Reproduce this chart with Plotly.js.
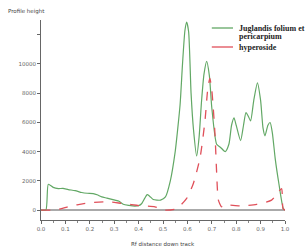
<!DOCTYPE html>
<html><head><meta charset="utf-8">
<script src="https://cdn.plot.ly/plotly-3.0.1.min.js"></script>
<style>html,body{margin:0;padding:0;background:#fff}#c{width:307px;height:246px}</style>
</head><body><div id="c"></div>
<script>
const seriesNames = ["Juglandis folium et", "pericarpium", "hyperoside"];
const greenX = [0.0,0.02,0.03,0.05,0.071,0.09,0.112,0.14,0.167,0.19,0.214,0.23,0.249,0.27,0.303,0.32,0.337,0.36,0.385,0.40,0.413,0.425,0.435,0.445,0.46,0.475,0.49,0.51,0.53,0.55,0.56,0.57,0.58,0.59,0.597,0.605,0.615,0.625,0.638,0.648,0.658,0.668,0.679,0.69,0.70,0.72,0.735,0.755,0.77,0.781,0.791,0.80,0.818,0.83,0.84,0.85,0.859,0.872,0.887,0.90,0.91,0.918,0.93,0.939,0.948,0.96,0.975,0.993,1.0];
const greenY = [0,0,1760,1550,1470,1480,1400,1330,1200,1150,1130,1050,900,820,680,600,400,320,270,300,450,800,1050,950,720,680,680,900,2000,4000,5500,7200,10000,12300,12850,12200,8000,5500,3700,5000,7460,9300,10170,9200,7000,4500,4300,4000,4500,5800,6300,5800,4750,5800,6660,6400,6100,7500,8700,7500,5600,5080,5800,5990,5300,3500,1800,100,0];
const redX = [0.0,0.05,0.08,0.126,0.17,0.208,0.262,0.30,0.33,0.37,0.413,0.467,0.508,0.556,0.597,0.624,0.652,0.672,0.683,0.692,0.70,0.713,0.72,0.727,0.74,0.745,0.816,0.884,0.945,0.973,0.986,0.992,1.0];
const redY = [0,0,80,290,420,520,560,530,450,370,290,220,0,100,800,1800,3600,6100,8200,9000,8200,5200,2500,680,220,340,290,390,680,1240,1470,100,0];
const xTickVals = [0,0.1,0.2,0.3,0.4,0.5,0.6,0.7,0.8,0.9,1.0];
const xTickText = ["0.0","0.1","0.2","0.3","0.4","0.5","0.6","0.7","0.8","0.9","1.0"];
const yTickVals = [0,2000,4000,6000,8000,10000,12000];
const yTickText = ["0","2000","4000","6000","8000","10000",""];
const greenColor = "#62a865", redColor = "#e0505a";

const traces = [
  {x: greenX, y: greenY, name: seriesNames[0] + " " + seriesNames[1], mode: "lines", line: {color: greenColor, width: 1.2, shape: "spline", smoothing: 0.6}, cliponaxis: false},
  {x: redX, y: redY, name: seriesNames[2], mode: "lines", line: {color: redColor, width: 1.3, dash: "dash", shape: "spline", smoothing: 0.6}}
];
const legFont = {family: "Liberation Serif", size: 8, color: "#222", weight: "bold"};
const layout = {
  width: 307, height: 246,
  margin: {l: 41, r: 22, t: 20, b: 26},
  paper_bgcolor: "#fff", plot_bgcolor: "#fff",
  showlegend: false,
  xaxis: {range: [0, 1.0], tickvals: xTickVals, ticktext: xTickText, showgrid: false, zeroline: false,
    showline: true, linecolor: "#666", linewidth: 1, ticks: "outside", ticklen: 3, tickcolor: "#666",
    minor: {dtick: 0.05, ticks: "outside", ticklen: 2, tickcolor: "#888"},
    tickfont: {family: "DejaVu Sans", size: 5.5, color: "#666"}},
  yaxis: {range: [-680, 13000], tickvals: yTickVals, ticktext: yTickText, showgrid: false,
    zeroline: true, zerolinecolor: "#aaa", zerolinewidth: 2,
    showline: true, linecolor: "#666", linewidth: 1, ticks: "outside", ticklen: 3, tickcolor: "#666",
    tickfont: {family: "DejaVu Sans", size: 5.5, color: "#666"}},
  shapes: [
    {type: "line", xref: "paper", yref: "paper", x0: 0.70, x1: 0.787, y0: 0.96, y1: 0.96, line: {color: greenColor, width: 1.3}},
    {type: "line", xref: "paper", yref: "paper", x0: 0.70, x1: 0.787, y0: 0.865, y1: 0.865, line: {color: redColor, width: 1.3}}
  ],
  annotations: [
    {text: "Profile height", xref: "paper", yref: "paper", x: -0.145, y: 1.04, xanchor: "left", yanchor: "middle", showarrow: false,
     font: {family: "DejaVu Sans", size: 5.5, color: "#444"}},
    {text: "Rf distance down track", xref: "paper", yref: "paper", x: 0.36, y: -0.095, xanchor: "left", yanchor: "top", showarrow: false,
     font: {family: "DejaVu Sans", size: 5.5, color: "#444"}},
    {text: seriesNames[0], xref: "paper", yref: "paper", x: 0.803, y: 0.96, xanchor: "left", yanchor: "middle", showarrow: false, font: legFont},
    {text: seriesNames[1], xref: "paper", yref: "paper", x: 0.803, y: 0.915, xanchor: "left", yanchor: "middle", showarrow: false, font: legFont},
    {text: seriesNames[2], xref: "paper", yref: "paper", x: 0.803, y: 0.865, xanchor: "left", yanchor: "middle", showarrow: false, font: legFont}
  ]
};
Plotly.newPlot("c", traces, layout, {displayModeBar: false, staticPlot: true});
</script></body></html>
